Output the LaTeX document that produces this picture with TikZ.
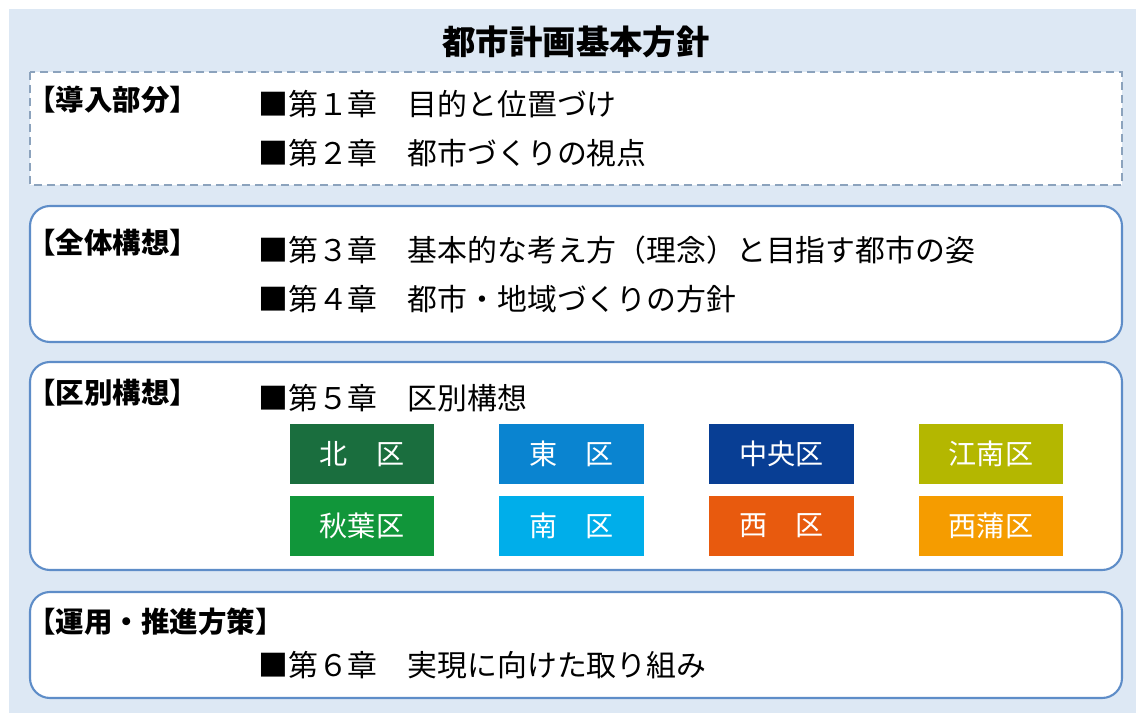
\documentclass[tikz,border=0pt]{standalone}
\usepackage{fontspec}
\setmainfont{Noto Sans CJK JP}
\usetikzlibrary{positioning}

\definecolor{panelbg}{HTML}{DDE8F4}
\definecolor{frameline}{HTML}{5E8DC8}
\definecolor{dashline}{HTML}{8CA3BD}
\definecolor{kitacol}{HTML}{1A6E3E}
\definecolor{akihacol}{HTML}{11963A}
\definecolor{higashicol}{HTML}{0A84D0}
\definecolor{minamicol}{HTML}{00AEEA}
\definecolor{chuocol}{HTML}{083E94}
\definecolor{konancol}{HTML}{B4B700}
\definecolor{nishicol}{HTML}{E85A0E}
\definecolor{nishikancol}{HTML}{F59C00}

\begin{document}
\begin{tikzpicture}[x=0.02cm,y=-0.02cm]
  \tikzstyle{frame}=[draw=frameline,line width=1.2pt,fill=white,rounded corners=0.4cm]
  \tikzstyle{dashframe}=[draw=dashline,line width=0.9pt,fill=white,dash pattern=on 0.16cm off 0.1cm]
  \tikzstyle{part}=[anchor=west,inner sep=0pt,font=\fontsize{16.2}{19}\selectfont\bfseries]
  \tikzstyle{chapter}=[anchor=west,inner sep=0pt,font=\fontsize{17}{20}\selectfont]
  \tikzstyle{ward}=[minimum width=2.9cm,minimum height=1.2cm,inner sep=0pt,text=white,
                    font=\fontsize{16}{19}\selectfont]

  \useasboundingbox (0,0) rectangle (1136,713);
  \fill[panelbg] (9,9) rectangle (1136,713);

  \node (title) at (576,42) {\fontsize{19}{22}\selectfont\bfseries 都市計画基本方針};

  % intro
  \draw[dashframe] (30,72) rectangle (1122,185);
  \node[part]    (intro) at (27,100)  {【導入部分】};
  \node[chapter] (ch1)   at (258,104) {■第１章　目的と位置づけ};
  \node[chapter] (ch2)   at (258,153) {■第２章　都市づくりの視点};

  % whole
  \draw[frame] (30,206) rectangle (1122,342);
  \node[part]    (whole) at (27,243)  {【全体構想】};
  \node[chapter] (ch3)   at (258,250) {■第３章　基本的な考え方（理念）と目指す都市の姿};
  \node[chapter] (ch4)   at (258,299) {■第４章　都市・地域づくりの方針};

  % wards
  \draw[frame] (30,362) rectangle (1122,570);
  \node[part]    (wards) at (27,393)  {【区別構想】};
  \node[chapter] (ch5)   at (258,398) {■第５章　区別構想};

  \node[ward,fill=kitacol]      (kita)     at (362,454)            {北　区};
  \node[ward,fill=higashicol]   (higashi)  [right=1.28cm of kita]   {東　区};
  \node[ward,fill=chuocol]      (chuo)     [right=1.28cm of higashi] {中央区};
  \node[ward,fill=konancol]     (konan)    [right=1.28cm of chuo]   {江南区};
  \node[ward,fill=akihacol]     (akiha)    [below=0.22cm of kita]   {秋葉区};
  \node[ward,fill=minamicol]    (minami)   [below=0.22cm of higashi] {南　区};
  \node[ward,fill=nishicol]     (nishi)    [below=0.22cm of chuo]   {西　区};
  \node[ward,fill=nishikancol]  (nishikan) [below=0.22cm of konan]  {西蒲区};

  % operation
  \draw[frame] (30,592) rectangle (1122,698);
  \node[part]    (oper)  at (27,622)  {【運用・推進方策】};
  \node[chapter] (ch6)   at (258,665) {■第６章　実現に向けた取り組み};
\end{tikzpicture}
\end{document}
